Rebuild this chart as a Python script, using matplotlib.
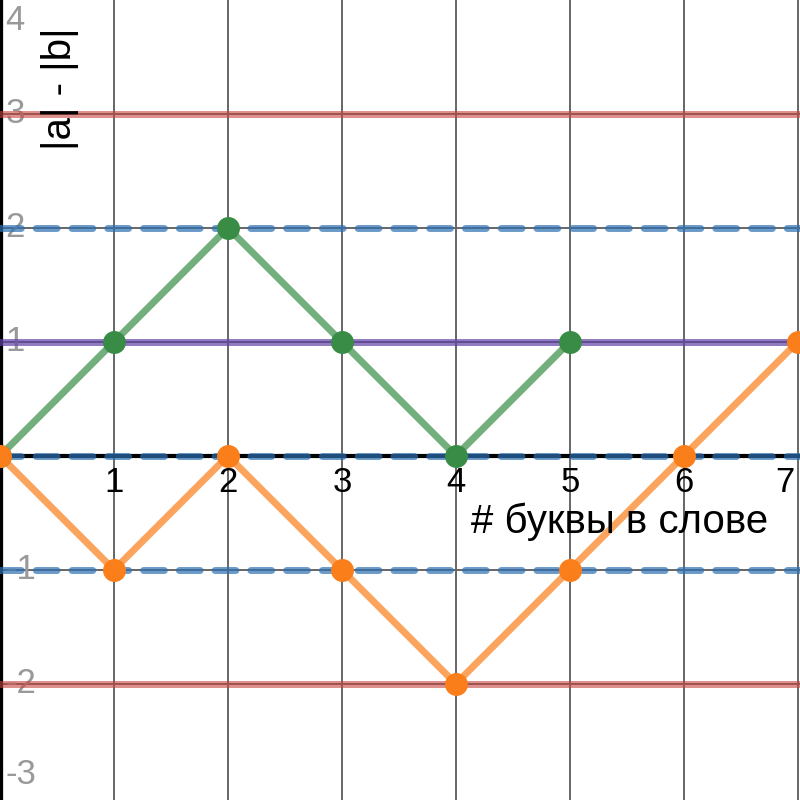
import matplotlib
matplotlib.use("Agg")
import matplotlib.pyplot as plt

plt.rcParams["font.family"] = ["Liberation Sans", "DejaVu Sans"]

# data
green_x = [0, 1, 2, 3, 4, 5]
green_y = [0, 1, 2, 1, 0, 1]
orange_x = [0, 1, 2, 3, 4, 5, 6, 7]
orange_y = [0, -1, 0, -1, -2, -1, 0, 1]
red_levels = [3, -2]
blue_levels = [2, 0, -1]
purple_levels = [1]
x_ticks = [1, 2, 3, 4, 5, 6, 7]
y_ticks = [4, 3, 2, 1, -1, -2, -3]

RED = "#c74440"
BLUE = "#2d70b3"
GREEN = "#388c46"
PURPLE = "#6042a6"
ORANGE = "#fa7e19"

XMIN, XMAX = 0, 7.02
YMIN, YMAX = -3.02, 4.0

fig = plt.figure(figsize=(8, 8), dpi=100)
ax = fig.add_axes([0, 0, 1, 1])
ax.set_xlim(XMIN, XMAX)
ax.set_ylim(YMIN, YMAX)
ax.axis("off")

# grid
for x in x_ticks:
    ax.axvline(x, color="#666666", lw=1.4, zorder=1)
for y in range(-2, 4):
    ax.axhline(y, color="#666666", lw=1.4, zorder=1)

# axes
ax.axhline(0, color="black", lw=3, zorder=2)
ax.axvline(0, color="black", lw=4.5, zorder=2)

# level lines
for y in red_levels:
    ax.axhline(y, color=RED, lw=5, alpha=0.6, zorder=3)
for y in purple_levels:
    ax.axhline(y, color=PURPLE, lw=5, alpha=0.7, zorder=3)
for y in blue_levels:
    ax.axhline(y, color=BLUE, lw=5, alpha=0.7, ls=(0, (3, 2.15)),
               dash_capstyle="round", zorder=3)

# series
ax.plot(green_x, green_y, color=GREEN, lw=5, alpha=0.7, zorder=4)
ax.plot(green_x, green_y, "o", color=GREEN, ms=15.5, zorder=5)
ax.plot(orange_x, orange_y, color=ORANGE, lw=5, alpha=0.7, zorder=4)
ax.plot(orange_x, orange_y, "o", color=ORANGE, ms=15.5, zorder=5)

# tick labels (kept inside the view like the original)
for x in x_ticks:
    ax.text(min(x, XMAX - 0.13), -0.23, str(x), ha="center", va="center",
            fontsize=25, color="black", zorder=6)
for y in y_ticks:
    yy = min(max(y, YMIN + 0.22), YMAX - 0.18)
    ax.text(0.05, yy, str(y), ha="left", va="center", fontsize=25,
            color="#999999", zorder=2.5)

# axis labels
ax.text(0.53, 3.22, "|a| - |b|", rotation=90, ha="center", va="center",
        fontsize=29, color="black", zorder=6)
ax.text(5.44, -0.58, "# буквы в слове", ha="center", va="center",
        fontsize=29, color="black", zorder=6)

fig.savefig("out.png", dpi=100)
